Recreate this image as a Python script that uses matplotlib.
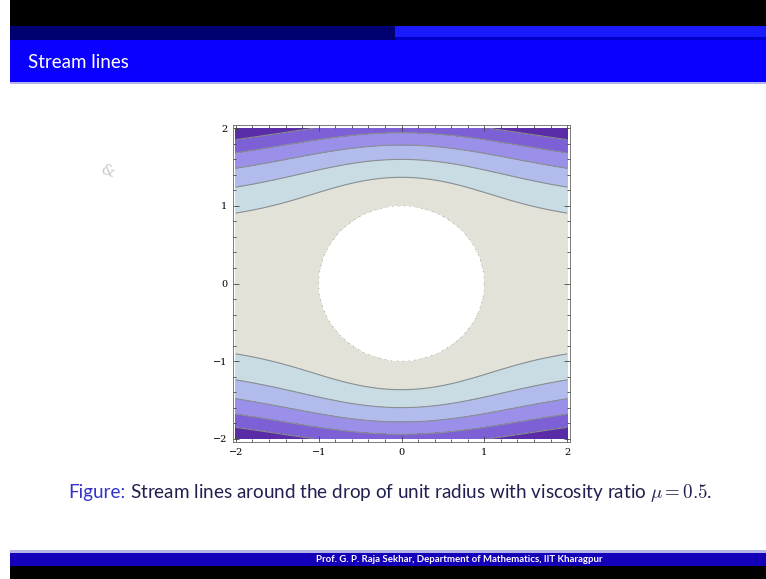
import matplotlib.pyplot as plt
import matplotlib.patches as mpatches
import numpy as np

# drop viscosity ratio and contour levels of the stream function
mu = 0.5
levels = [0.2, 0.4, 0.6, 0.8, 1.0]
band_colors = ['#e3e2d8', '#c9dce3', '#b2bcec', '#9a90ea', '#7d60d6', '#5a2ca8']
tick_major = [-2, -1, 0, 1, 2]
tick_labels = ['\u22122', '\u22121', '0', '1', '2']

title = 'Stream lines'
caption_head = 'Figure:'
caption_body = 'Stream lines around the drop of unit radius with viscosity ratio $\\mu = 0.5$.'
footer = 'Prof. G. P. Raja Sekhar, Department of Mathematics, IIT Kharagpur'

plt.rcParams['mathtext.fontset'] = 'cm'

fig = plt.figure(figsize=(7.66, 5.79), dpi=100)

# slide background drawn in pixel coordinates
bg = fig.add_axes([0, 0, 1, 1])
bg.set_xlim(0, 766)
bg.set_ylim(579, 0)
bg.axis('off')

def box(x0, y0, x1, y1, c):
    bg.add_patch(mpatches.Rectangle((x0, y0), x1 - x0, y1 - y0, color=c, lw=0))

box(10, 0, 766, 26, 'black')
box(10, 26, 395, 40, '#000070')
box(395, 26, 766, 37, '#1a1aff')
box(395, 37, 766, 40, '#0000c8')
box(10, 40, 766, 82, '#0a00ff')
box(10, 82, 766, 84, '#b4b4f0')
box(10, 550, 766, 553, '#b4b4e6')
box(10, 553, 766, 566, '#1400b8')
box(10, 566, 766, 579, 'black')

bg.text(28, 63, title, color='white', fontsize=13.5, family='Lato', va='center')
bg.text(108, 172, '&', color='#c8c8c8', fontsize=11, family='DejaVu Serif',
        ha='center', va='center', rotation=-20)
t = bg.text(68, 498, caption_head, color='#3434c8', fontsize=13.6, family='Lato', va='baseline')
fig.canvas.draw()
head_end = t.get_window_extent().x1 + 5
bg.text(head_end, 498, caption_body, color='#202050', fontsize=13.6, family='Lato',
        va='baseline')
bg.text(459, 559, footer, color='white', fontsize=6.9, family='Lato',
        ha='center', va='center', weight='bold')

# stream function (Hadamard-Rybczynski flow past a drop)
a = (2 + 3 * mu) / (2 * (1 + mu))
b = mu / (2 * (1 + mu))
x = np.linspace(-2, 2, 401)
y = np.linspace(-2, 2, 401)
X, Y = np.meshgrid(x, y)
R = np.sqrt(X**2 + Y**2)
psi = 0.5 * Y**2 * (1 - a / R + b / R**3)
psi = np.ma.masked_where(R < 1, psi)

ax = fig.add_axes([233 / 766, 1 - 442 / 579, 337 / 766, 317 / 579])
ax.contourf(X, Y, psi, levels=[-1] + levels + [5], colors=band_colors)
ax.contour(X, Y, psi, levels=levels, colors='#8a8f90', linewidths=0.8)
th = np.linspace(0, 2 * np.pi, 200)
ax.plot(np.cos(th), np.sin(th), color='#999999', lw=0.6, ls=(0, (1, 6)))
ax.set_xlim(-2.035, 2.035)
ax.set_ylim(-2.045, 2.045)

ax.set_xticks(tick_major)
ax.set_xticklabels(tick_labels)
ax.set_yticks(tick_major)
ax.set_yticklabels(tick_labels)
ax.set_xticks(np.arange(-2, 2.01, 0.2), minor=True)
ax.set_yticks(np.arange(-2, 2.01, 0.2), minor=True)
ax.tick_params(which='both', direction='in', top=True, right=True, color='#444444',
               width=0.6, labelsize=7, pad=4)
ax.tick_params(which='major', length=4.5)
ax.tick_params(which='minor', length=2.5)
for lab in ax.get_xticklabels() + ax.get_yticklabels():
    lab.set_family('DejaVu Serif')
for s in ax.spines.values():
    s.set_color('#666666')
    s.set_linewidth(0.6)

fig.savefig('out.png', dpi=100)
